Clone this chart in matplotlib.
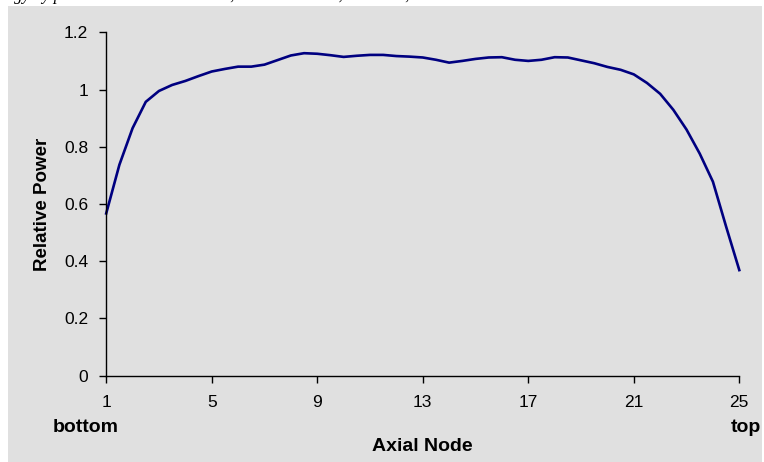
import matplotlib
matplotlib.use("Agg")
import matplotlib.pyplot as plt
from matplotlib.patches import Rectangle

# axial nodes (half-node steps) and relative power
nodes = [1, 1.5, 2, 2.5, 3, 3.5, 4, 4.5, 5, 5.5, 6, 6.5, 7, 7.5, 8, 8.5,
         9, 9.5, 10, 10.5, 11, 11.5, 12, 12.5, 13, 13.5, 14, 14.5, 15, 15.5,
         16, 16.5, 17, 17.5, 18, 18.5, 19, 19.5, 20, 20.5, 21, 21.5, 22,
         22.5, 23, 23.5, 24, 24.5, 25]
rel_power = [0.567, 0.737, 0.865, 0.957, 0.995, 1.016, 1.030, 1.047, 1.063,
             1.072, 1.080, 1.080, 1.087, 1.103, 1.119, 1.127, 1.125, 1.120,
             1.114, 1.118, 1.121, 1.121, 1.117, 1.115, 1.112, 1.104, 1.094,
             1.100, 1.107, 1.112, 1.113, 1.104, 1.100, 1.104, 1.113, 1.112,
             1.102, 1.092, 1.079, 1.069, 1.053, 1.023, 0.985, 0.929, 0.860,
             0.776, 0.678, 0.521, 0.369]
x_ticks = [1, 5, 9, 13, 17, 21, 25]
y_ticks = [0, 0.2, 0.4, 0.6, 0.8, 1.0, 1.2]
y_tick_labels = ['0', '0.2', '0.4', '0.6', '0.8', '1', '1.2']

plt.rcParams['font.family'] = ['Liberation Sans', 'DejaVu Sans']

W, H = 764, 462
fig = plt.figure(figsize=(W / 100, H / 100), dpi=100)
fig.patch.set_facecolor('white')

# grey chart area (white strip at top and left)
fig.patches.append(Rectangle((8 / W, 0), 754 / W, 456 / H, transform=fig.transFigure,
                             facecolor='#e0e0e0', edgecolor='none', zorder=-10))

# clipped caption line from the page above
fig.text(-0.02, 1 - 0.5 / H, 'energy by power distribution at BOL, 1800 MW total, 157 rods, critical boron',
         family='Liberation Serif', style='italic', fontsize=12, va='baseline', ha='left')

ax = fig.add_axes([106.2 / W, 1 - 375.7 / H, (739.3 - 106.2) / W, (375.7 - 32.3) / H])
ax.set_facecolor('none')
ax.set_zorder(5)
ax.plot(nodes, rel_power, color='#000080', linewidth=1.9, clip_on=False)

ax.set_xlim(1, 25)
ax.set_ylim(0, 1.2)
ax.set_xticks(x_ticks)
ax.set_yticks(y_ticks)
ax.set_yticklabels(y_tick_labels)
for s in ['top', 'right']:
    ax.spines[s].set_visible(False)
for s in ['left', 'bottom']:
    ax.spines[s].set_linewidth(1.0)
ax.tick_params(axis='both', direction='out', length=5, width=1.0, labelsize=12.5)
ax.tick_params(axis='y', pad=8)
ax.tick_params(axis='x', pad=9)

ax.set_ylabel('Relative Power', fontsize=13.5, fontweight='bold', labelpad=9)
fig.text(422 / W, 1 - 451 / H, 'Axial Node', fontsize=14, fontweight='bold',
         ha='center', va='baseline')
fig.text(86 / W, 1 - 432 / H, 'bottom', fontsize=14, fontweight='bold',
         ha='center', va='baseline')
fig.text(761 / W, 1 - 432 / H, 'top', fontsize=14, fontweight='bold',
         ha='right', va='baseline')

fig.savefig('out.png', dpi=100)
